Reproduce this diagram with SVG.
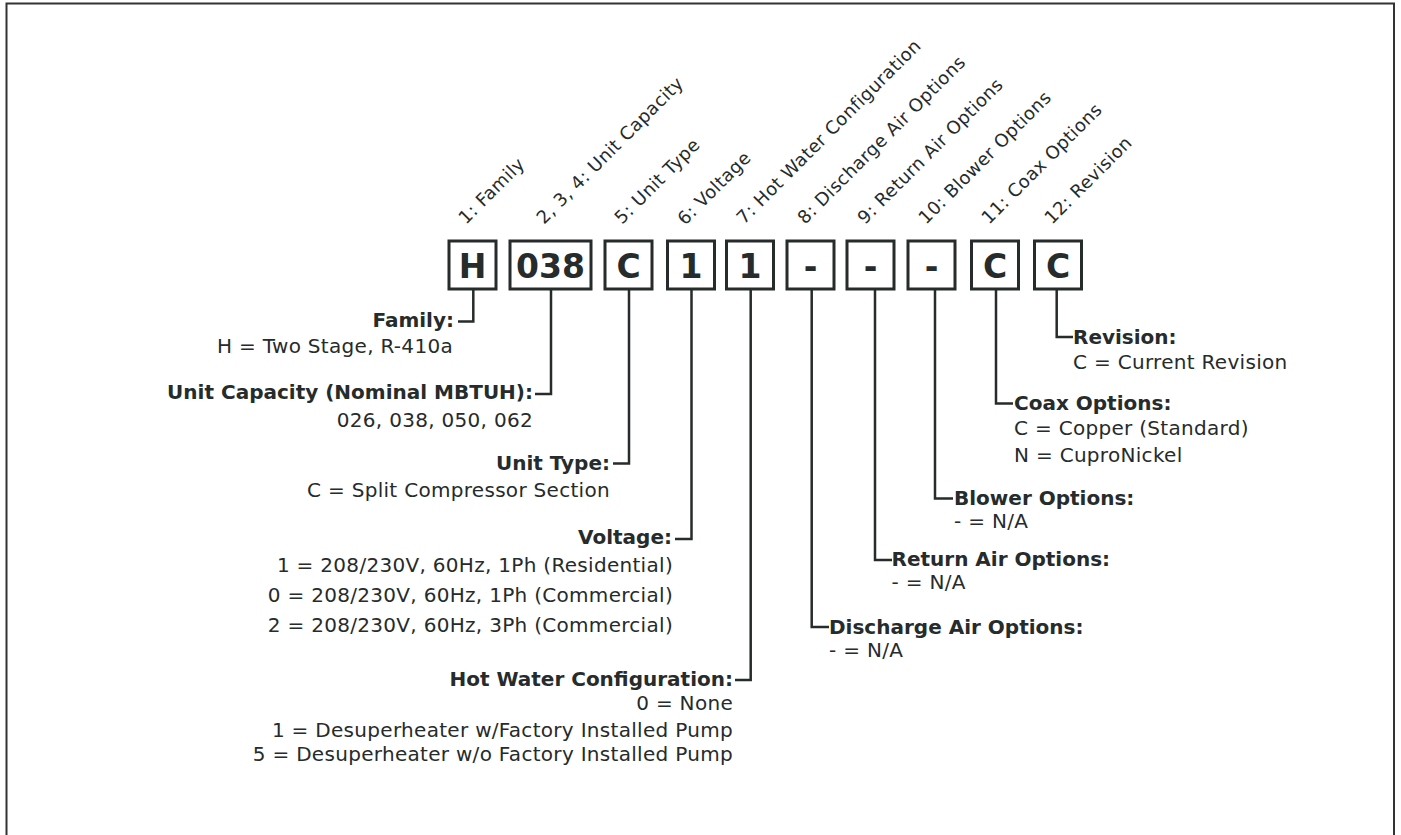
<svg xmlns="http://www.w3.org/2000/svg" width="1401" height="835" viewBox="0 0 1401 835">
<style>
text{font-family:"DejaVu Sans","Verdana",sans-serif;fill:#262b2b}
.b{font-weight:bold;font-size:20px}
.r{font-size:20px;letter-spacing:0.3px}
.rot{font-size:18px;letter-spacing:0.4px}
.box{fill:#fff;stroke:#262b2b;stroke-width:3}
.code{font-weight:bold;font-size:33px;text-anchor:middle}
.e{text-anchor:end}
.conn{fill:none;stroke:#262b2b;stroke-width:2.5}
</style>
<rect x="0" y="0" width="1401" height="835" fill="#fff"/>
<rect x="6.5" y="3.5" width="1387.5" height="900" fill="none" stroke="#333" stroke-width="2"/>

<g id="header-labels">
<text class="rot" transform="translate(466,225) rotate(-45)">1: Family</text>
<text class="rot" transform="translate(544,225) rotate(-45)">2, 3, 4: Unit Capacity</text>
<text class="rot" transform="translate(622,225) rotate(-45)">5: Unit Type</text>
<text class="rot" transform="translate(685,226) rotate(-45)">6: Voltage</text>
<text class="rot" transform="translate(744,225) rotate(-45)">7: Hot Water Configuration</text>
<text class="rot" transform="translate(805,225) rotate(-45)">8: Discharge Air Options</text>
<text class="rot" transform="translate(865,225) rotate(-45)">9: Return Air Options</text>
<text class="rot" transform="translate(926,225) rotate(-45)">10: Blower Options</text>
<text class="rot" transform="translate(989,225) rotate(-45)">11: Coax Options</text>
<text class="rot" transform="translate(1052,225) rotate(-45)">12: Revision</text>
</g>

<g id="connectors">
<path class="conn" d="M473.3 290 V321.5 H458"/>
<path class="conn" d="M551 290 V394 H535"/>
<path class="conn" d="M629 290 V463.5 H613"/>
<path class="conn" d="M691.5 290 V539 H675"/>
<path class="conn" d="M750.7 290 V680 H735"/>
<path class="conn" d="M811.7 290 V627 H829"/>
<path class="conn" d="M875 290 V560 H892"/>
<path class="conn" d="M935 290 V498.5 H953"/>
<path class="conn" d="M996 290 V403.5 H1013"/>
<path class="conn" d="M1056.7 290 V337 H1073"/>
</g>

<g id="box-1"><rect class="box" x="449" y="241" width="47" height="48"/><text class="code" x="472.5" y="277.5">H</text></g>
<g id="box-2-4"><rect class="box" x="510" y="241" width="81" height="48"/><text class="code" x="550.5" y="277.5">038</text></g>
<g id="box-5"><rect class="box" x="605" y="241" width="47" height="48"/><text class="code" x="628.5" y="277.5">C</text></g>
<g id="box-6"><rect class="box" x="667.5" y="241" width="47" height="48"/><text class="code" x="691" y="277.5">1</text></g>
<g id="box-7"><rect class="box" x="726.5" y="241" width="47" height="48"/><text class="code" x="750" y="277.5">1</text></g>
<g id="box-8"><rect class="box" x="787" y="241" width="47" height="48"/><text class="code" x="810.5" y="277.5">-</text></g>
<g id="box-9"><rect class="box" x="847" y="241" width="47" height="48"/><text class="code" x="870.5" y="277.5">-</text></g>
<g id="box-10"><rect class="box" x="908" y="241" width="47" height="48"/><text class="code" x="931.5" y="277.5">-</text></g>
<g id="box-11"><rect class="box" x="971.5" y="241" width="47" height="48"/><text class="code" x="995" y="277.5">C</text></g>
<g id="box-12"><rect class="box" x="1034.5" y="241" width="47" height="48"/><text class="code" x="1058" y="277.5">C</text></g>

<g id="family">
<text class="b e" x="454" y="327">Family:</text>
<text class="r e" x="453" y="353">H = Two Stage, R-410a</text>
</g>
<g id="capacity">
<text class="b e" x="533" y="399">Unit Capacity (Nominal MBTUH):</text>
<text class="r e" x="533" y="427">026, 038, 050, 062</text>
</g>
<g id="unit-type">
<text class="b e" x="610" y="469.5">Unit Type:</text>
<text class="r e" x="610" y="497">C = Split Compressor Section</text>
</g>
<g id="voltage">
<text class="b e" x="672" y="544">Voltage:</text>
<text class="r e" x="673" y="572">1 = 208/230V, 60Hz, 1Ph (Residential)</text>
<text class="r e" x="673" y="602">0 = 208/230V, 60Hz, 1Ph (Commercial)</text>
<text class="r e" x="673" y="632">2 = 208/230V, 60Hz, 3Ph (Commercial)</text>
</g>
<g id="hot-water">
<text class="b e" x="733" y="685.5">Hot Water Configuration:</text>
<text class="r e" x="733" y="710">0 = None</text>
<text class="r e" x="733" y="736.5">1 = Desuperheater w/Factory Installed Pump</text>
<text class="r e" x="733" y="760.5">5 = Desuperheater w/o Factory Installed Pump</text>
</g>
<g id="discharge">
<text class="b" x="829" y="633.5">Discharge Air Options:</text>
<text class="r" x="829" y="656.5">- = N/A</text>
</g>
<g id="return-air">
<text class="b" x="891.5" y="566">Return Air Options:</text>
<text class="r" x="891.5" y="589">- = N/A</text>
</g>
<g id="blower">
<text class="b" x="954" y="505">Blower Options:</text>
<text class="r" x="954" y="528">- = N/A</text>
</g>
<g id="coax">
<text class="b" x="1014" y="410">Coax Options:</text>
<text class="r" x="1014" y="435">C = Copper (Standard)</text>
<text class="r" x="1014" y="461.5">N = CuproNickel</text>
</g>
<g id="revision">
<text class="b" x="1073" y="343.5">Revision:</text>
<text class="r" x="1073" y="368.5">C = Current Revision</text>
</g>
</svg>
